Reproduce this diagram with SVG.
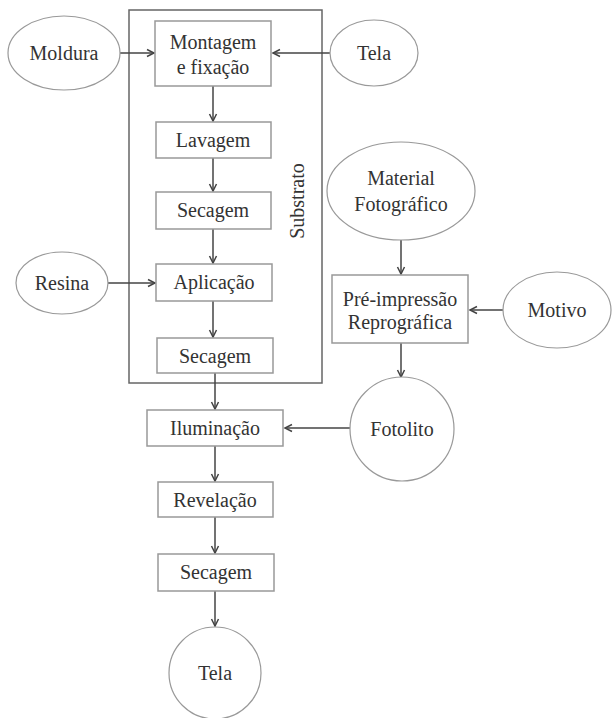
<svg xmlns="http://www.w3.org/2000/svg" width="612" height="718" viewBox="0 0 612 718">
<defs>
<marker id="arr" markerWidth="10" markerHeight="10" refX="8" refY="5" orient="auto" markerUnits="userSpaceOnUse">
<path d="M1,1.5 L8,5 L1,8.5" fill="none" stroke="#444" stroke-width="1.5"/>
</marker>
</defs>
<style>
.t{font-size:20px;fill:#333;text-anchor:middle;dominant-baseline:central}
.box{fill:#fff;stroke:#999;stroke-width:1.5}
.ell{fill:#fff;stroke:#999;stroke-width:1.2}
.con line{stroke:#444;stroke-width:1.5;marker-end:url(#arr)}
</style>
<rect width="612" height="718" fill="#fff"/>
<g font-family="Liberation Serif, DejaVu Serif, serif">
<g id="substrato">
<rect x="129" y="10" width="193" height="373" fill="none" stroke="#666" stroke-width="1.5"/>
<text class="t" x="297" y="201" transform="rotate(-90 297 201)">Substrato</text>
</g>
<g class="con">
<line x1="120" y1="53" x2="154" y2="53"/>
<line x1="330" y1="53" x2="273" y2="53"/>
<line x1="213" y1="86" x2="213" y2="121"/>
<line x1="213" y1="158" x2="213" y2="191"/>
<line x1="213" y1="229" x2="213" y2="263"/>
<line x1="107" y1="283" x2="155" y2="283"/>
<line x1="213" y1="301" x2="213" y2="337"/>
<line x1="215" y1="373" x2="215" y2="409"/>
<line x1="215" y1="446" x2="215" y2="481"/>
<line x1="215" y1="517" x2="215" y2="553"/>
<line x1="215" y1="591" x2="215" y2="626"/>
<line x1="401" y1="240" x2="401" y2="274"/>
<line x1="503" y1="310" x2="470" y2="310"/>
<line x1="401" y1="343" x2="401" y2="377"/>
<line x1="350" y1="428" x2="285" y2="428"/>
</g>
<g id="moldura"><ellipse class="ell" cx="64" cy="53" rx="56" ry="37"/><text class="t" x="64" y="53">Moldura</text></g>
<g id="tela1"><ellipse class="ell" cx="374" cy="53" rx="44" ry="33"/><text class="t" x="374" y="53">Tela</text></g>
<g id="montagem"><rect class="box" x="155" y="21" width="116" height="65"/><text class="t" x="213" y="42">Montagem</text><text class="t" x="213" y="67">e fixação</text></g>
<g id="lavagem"><rect class="box" x="156" y="122" width="115" height="36"/><text class="t" x="213" y="140">Lavagem</text></g>
<g id="secagem1"><rect class="box" x="156" y="192" width="115" height="37"/><text class="t" x="213" y="210">Secagem</text></g>
<g id="resina"><ellipse class="ell" cx="62" cy="283" rx="46" ry="31"/><text class="t" x="62" y="283">Resina</text></g>
<g id="aplicacao"><rect class="box" x="156" y="264" width="116" height="37"/><text class="t" x="214" y="282">Aplicação</text></g>
<g id="secagem2"><rect class="box" x="157" y="338" width="116" height="35"/><text class="t" x="215" y="356">Secagem</text></g>
<g id="material"><ellipse class="ell" cx="401" cy="191" rx="74" ry="49"/><text class="t" x="401" y="178">Material</text><text class="t" x="401" y="204">Fotográfico</text></g>
<g id="preimpressao"><rect class="box" x="332" y="275" width="136" height="68"/><text class="t" x="400" y="299">Pré-impressão</text><text class="t" x="400" y="322">Reprográfica</text></g>
<g id="motivo"><ellipse class="ell" cx="557" cy="310" rx="54" ry="38"/><text class="t" x="557" y="310">Motivo</text></g>
<g id="fotolito"><circle class="ell" cx="402" cy="429" r="52"/><text class="t" x="402" y="429">Fotolito</text></g>
<g id="iluminacao"><rect class="box" x="147" y="410" width="136" height="36"/><text class="t" x="215" y="428">Iluminação</text></g>
<g id="revelacao"><rect class="box" x="158" y="482" width="115" height="35"/><text class="t" x="215" y="500">Revelação</text></g>
<g id="secagem3"><rect class="box" x="158" y="554" width="116" height="37"/><text class="t" x="216" y="572">Secagem</text></g>
<g id="tela2"><circle class="ell" cx="215" cy="673" r="46"/><text class="t" x="215" y="673">Tela</text></g>
</g>
</svg>
